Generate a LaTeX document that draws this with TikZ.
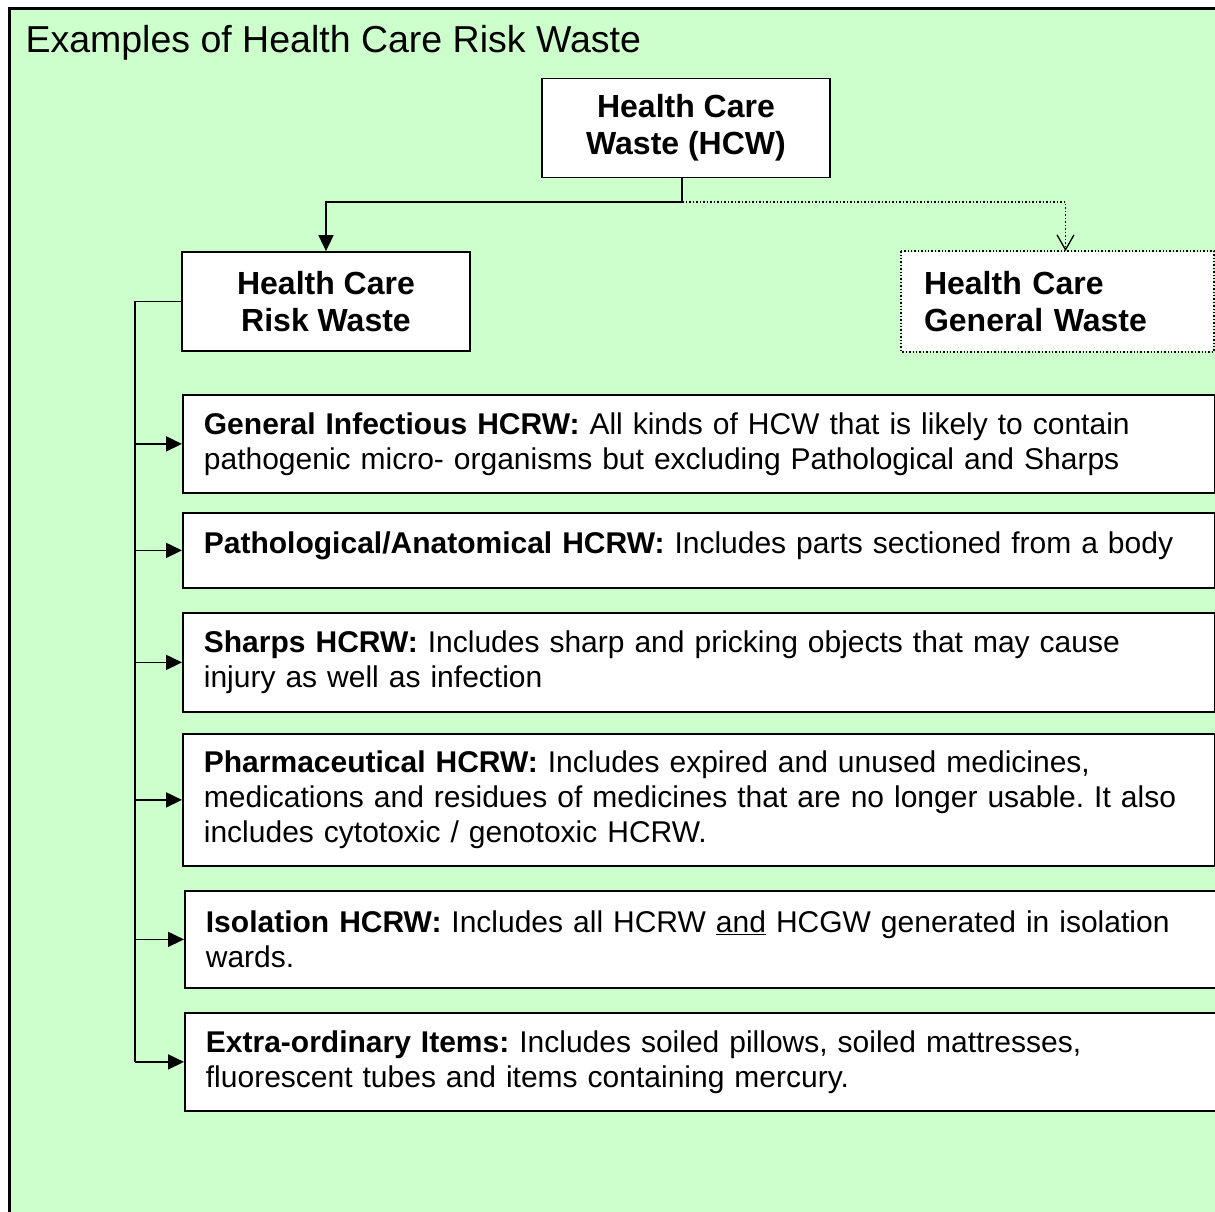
\documentclass[tikz,border=0pt]{standalone}
\usepackage{fontspec}
\setmainfont{Liberation Sans}
\usepackage{tikz}
\usetikzlibrary{calc}
\usetikzlibrary{positioning}
\usetikzlibrary{arrows.meta}

\definecolor{bggreen}{RGB}{204,255,204}
\frenchspacing

\begin{document}
\begin{tikzpicture}[x=1pt,y=-1pt,
box/.style = {draw, line width=1.8pt, fill=white, inner sep=0pt},
head/.style = {box, align=center, font=\bfseries\fontsize{32}{37}\selectfont, minimum width=288, minimum height=99},
item/.style = {box, anchor=north west, align=left, inner xsep=21pt, text width=990, font=\fontsize{30}{35}\selectfont},
conn/.style = {line width=1.8pt},
tip/.style = {conn, -{Triangle[length=16pt,width=15pt]}}]
\useasboundingbox (0,0) rectangle (1215,1212);
\fill[bggreen] (9,9) rectangle (1215,1212);
\draw[line width=3pt] (9,1212) -- (9,9) -- (1215,9);
\node[anchor=base west, font=\fontsize{37.5}{44}\selectfont] (title) at (22,53) {Examples of Health Care Risk Waste};
\node[head] (hcw) at (686,128) {Health Care\\Waste (HCW)};
\node[head] (risk) at (326,301.5) {Health Care\\Risk Waste};
\node[head, draw=none, align=left, text width=267, inner xsep=22pt, minimum width=311] (general) at (1057.5,301.5) {Health Care\\General Waste};
\draw[line width=1.4pt, dotted] (general.north west) rectangle (general.south east);
\coordinate (split) at (682,202);
\coordinate (bus) at (135,0);
\node[item, minimum height=98] (i1) at (182,394) {{\bfseries General Infectious HCRW:} All kinds of HCW that is likely to contain\\pathogenic micro- organisms but excluding Pathological and Sharps};
\node[item, minimum height=75, text depth=16pt] (i2) at (182,512) {{\bfseries Pathological/Anatomical HCRW:} Includes parts sectioned from a body};
\node[item, minimum height=99] (i3) at (182,612) {{\bfseries Sharps HCRW:} Includes sharp and pricking objects that may cause\\injury as well as infection};
\node[item, minimum height=132] (i4) at (182,733) {{\bfseries Pharmaceutical HCRW:} Includes expired and unused medicines,\\medications and residues of medicines that are no longer usable. It also\\includes cytotoxic / genotoxic HCRW.};
\node[item, minimum height=97] (i5) at (184,890) {{\bfseries Isolation HCRW:} Includes all HCRW \underline{and} HCGW generated in isolation\\wards.};
\node[item, minimum height=98] (i6) at (184,1012) {{\bfseries Extra-ordinary Items:} Includes soiled pillows, soiled mattresses,\\fluorescent tubes and items containing mercury.};
\draw[conn] (hcw.south -| split) -- (split);
\draw[tip] (split) -| (risk.north);
\draw[line width=1.5pt, dotted, -{Straight Barb[length=15pt,width=17pt,line width=1.3pt]}] (split) -| ([xshift=8pt]general.north);
\draw[conn] (risk.west) -- (risk.west -| bus) -- (i6.west -| bus);
\foreach \n in {i1,i2,i3,i4,i5,i6}
  \draw[tip] (\n.west -| bus) -- (\n.west);
\end{tikzpicture}
\end{document}
